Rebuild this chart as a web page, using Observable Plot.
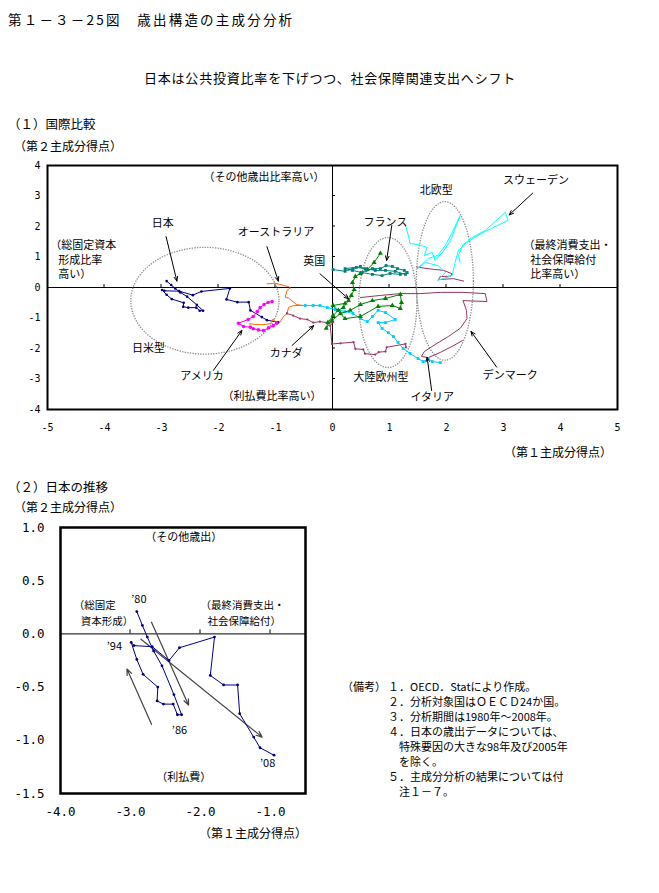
<!DOCTYPE html>
<html><head><meta charset="utf-8">
<script src="https://cdn.jsdelivr.net/npm/d3@7"></script>
<script src="https://cdn.jsdelivr.net/npm/@observablehq/plot@0.6"></script>
<style>
body{margin:0;background:#fff;}
#page{position:relative;width:659px;height:893px;overflow:hidden;font-family:"Noto Sans CJK JP",sans-serif;color:#000;background:#fff;}
.t{position:absolute;white-space:nowrap;}
.chart{position:absolute;}
</style></head><body><div id="page"></div>
<script>
// ---------- data (principal component scores) ----------
const xTicks1 = [-5,-4,-3,-2,-1,0,1,2,3,4,5];
const yTicks1 = [-4,-3,-2,-1,0,1,2,3,4];
const xTicks2 = [-4,-3,-2,-1];
const yTicks2 = [-1.5,-1,-0.5,0,0.5,1];

const japan = [[-2.91,0.21],[-2.83,0.08],[-2.76,-0.03],[-2.67,-0.16],[-2.55,-0.30],[-2.38,-0.57],[-2.27,-0.76],[-2.33,-0.76],[-2.39,-0.66],[-2.53,-0.66],[-2.62,-0.63],[-2.61,-0.50],[-2.82,-0.38],[-2.91,-0.24],[-2.99,-0.08],[-2.95,-0.11],[-2.69,-0.12],[-2.45,-0.25],[-2.30,-0.13],[-1.80,-0.03],[-1.86,-0.39],[-1.67,-0.48],[-1.47,-0.48],[-1.44,-0.75],[-1.24,-0.97],[-1.15,-1.07],[-0.95,-1.14]];
const australia = [[-1.15,0.12],[-1.01,0.14],[-0.86,0.07],[-0.77,0.03],[-0.74,-0.01],[-0.80,-0.10],[-0.83,-0.32],[-0.77,-0.35],[-0.63,-0.56],[-0.51,-0.59],[-0.68,-0.59],[-0.77,-0.65],[-0.80,-0.86],[-0.86,-0.95],[-0.92,-1.14],[-0.98,-1.21],[-1.04,-1.03],[-1.09,-1.19],[-1.24,-1.22],[-1.36,-1.21],[-1.46,-1.19]];
const usa = [[-1.06,-0.46],[-1.13,-0.49],[-1.20,-0.56],[-1.27,-0.66],[-1.32,-0.79],[-1.39,-0.95],[-1.48,-1.05],[-1.65,-1.17],[-1.56,-1.28],[-1.44,-1.30],[-1.39,-1.35],[-1.30,-1.39],[-1.21,-1.41],[-1.12,-1.32],[-1.04,-1.25],[-0.98,-1.17]];
const canada = [[-0.80,-0.85],[-0.69,-0.92],[-0.57,-1.02],[-0.44,-1.05],[-0.34,-1.15],[-0.22,-1.12],[-0.09,-1.15],[0.01,-1.14],[-0.04,-1.25],[-0.01,-1.85],[0.14,-1.83],[0.37,-1.79],[0.40,-2.01],[0.54,-2.03],[0.57,-2.17],[0.75,-2.20],[0.81,-2.12],[0.93,-2.10],[0.95,-1.96],[1.28,-1.85],[1.29,-1.96]];
const uk = [[0.84,1.12],[0.73,0.82],[0.61,0.59],[0.49,0.46],[0.40,0.36],[0.35,0.16],[0.38,-0.07],[0.33,-0.26],[0.28,-0.43],[0.19,-0.66],[0.10,-0.75],[0.01,-0.92],[-0.08,-1.15],[-0.11,-1.34],[-0.01,-1.08],[0.14,-0.85],[0.31,-0.75],[0.49,-0.56],[0.70,-0.43],[0.93,-0.36],[1.19,-0.23],[1.21,-0.49],[1.19,-0.69],[1.05,-0.59],[0.80,-0.62],[0.49,-0.95],[0.22,-1.02],[0.01,-0.59],[0.22,-0.52]];
const france = [[0.01,0.59],[0.22,0.53],[0.36,0.62],[0.49,0.69],[0.59,0.56],[0.70,0.62],[0.84,0.62],[0.94,0.72],[1.05,0.69],[1.14,0.62],[1.26,0.56],[1.31,0.49],[1.19,0.43],[1.01,0.46],[0.87,0.39],[0.70,0.43],[0.52,0.49],[0.35,0.56],[0.22,0.62],[0.42,0.66],[0.57,0.62],[0.75,0.56],[0.93,0.56],[1.10,0.53],[1.28,0.43]];
const italy = [[-0.48,-0.59],[-0.34,-0.59],[-0.22,-0.59],[-0.09,-0.66],[0.05,-0.72],[0.22,-0.79],[0.36,-0.85],[0.49,-1.02],[0.61,-1.12],[0.70,-0.95],[0.80,-0.75],[0.93,-0.82],[1.10,-1.05],[0.93,-1.15],[0.80,-1.15],[0.87,-1.34],[0.98,-1.48],[1.07,-1.61],[1.15,-1.80],[1.24,-2.00],[1.36,-2.16],[1.50,-2.33],[1.59,-2.43],[1.68,-2.33],[1.75,-2.43],[1.89,-2.46]];
const sweden = [[1.28,2.03],[1.33,1.71],[1.36,1.44],[1.50,1.41],[1.66,1.31],[1.61,1.05],[1.75,1.15],[1.80,0.89],[1.93,1.15],[2.07,1.54],[2.24,2.36],[2.10,1.80],[1.98,1.38],[1.85,1.05],[1.68,0.95],[1.49,0.62],[1.63,0.82],[1.85,0.72],[1.98,0.49],[1.84,0.23],[2.10,0.39],[2.15,0.82],[2.21,1.21],[2.42,1.61],[2.68,1.87],[3.03,2.46],[3.08,2.20],[2.64,1.80],[2.29,1.41],[2.21,1.05],[2.24,0.82]];
const denmarkA = [[1.48,0.67],[1.71,0.61],[1.95,0.56],[2.10,0.45],[2.07,0.37],[1.89,0.36],[1.86,0.26],[2.12,0.29],[2.30,0.21]];
const denmarkB = [[0.49,-0.33],[0.84,-0.26],[1.19,-0.20],[1.54,-0.20],[1.89,-0.16],[2.29,-0.16],[2.68,-0.20],[2.71,-0.46],[2.29,-0.43],[2.35,-0.75],[2.36,-1.02],[2.24,-1.34],[2.03,-1.61],[1.80,-1.87],[1.61,-2.10],[1.56,-2.26],[1.68,-2.30],[1.89,-2.13],[2.10,-1.93],[2.28,-1.74]];

// groupings (dotted ellipses): centre and radii in score units
const groups = [
  {cx:-2.23, cy:-0.45, rx:1.30, ry:1.75},
  {cx:0.98, cy:-0.51, rx:0.51, ry:2.13},
  {cx:1.98, cy:0.20, rx:0.50, ry:2.60}
];
const arrows1 = [
  {x1:-2.92,y1:1.67,x2:-2.73,y2:0.21},
  {x1:-1.15,y1:1.34,x2:-0.95,y2:0.21},
  {x1:-0.22,y1:0.45,x2:0.28,y2:-0.37},
  {x1:-2.09,y1:-2.72,x2:-1.59,y2:-1.41},
  {x1:-0.71,y1:-1.90,x2:-0.33,y2:-1.25},
  {x1:1.04,y1:2.03,x2:0.95,y2:0.89},
  {x1:3.51,y1:3.09,x2:3.10,y2:2.38},
  {x1:2.88,y1:-2.61,x2:2.43,y2:-1.44},
  {x1:1.74,y1:-3.38,x2:1.66,y2:-2.29}
];
const labels1 = [
  {t:"（その他歳出比率高い）",x:-1.20,y:3.61},{t:"日本",x:-2.98,y:2.10},{t:"オーストラリア",x:-0.99,y:1.80},
  {t:"英国",x:-0.32,y:0.85},{t:"日米型",x:-3.23,y:-2.0},{t:"カナダ",x:-0.81,y:-2.16},
  {t:"アメリカ",x:-2.29,y:-2.92},{t:"（利払費比率高い）",x:-1.06,y:-3.57},{t:"北欧型",x:1.82,y:3.18},
  {t:"フランス",x:0.93,y:2.13},{t:"スウェーデン",x:3.57,y:3.51},{t:"大陸欧州型",x:0.85,y:-2.95},
  {t:"デンマーク",x:3.12,y:-2.89},{t:"イタリア",x:1.75,y:-3.61}
];
const labels1Left = [
  {t:"（総固定資本",x:-4.95,y:1.37},{t:"形成比率",x:-4.81,y:0.90},{t:"高い）",x:-4.81,y:0.43},
  {t:"（最終消費支出・",x:3.35,y:1.37},{t:"社会保障給付",x:3.47,y:0.90},{t:"比率高い）",x:3.47,y:0.43}
];
const arrows2 = [
  {x1:-2.70,y1:0.11,x2:-2.17,y2:-0.67},
  {x1:-2.70,y1:-0.85,x2:-3.05,y2:-0.33},
  {x1:-2.85,y1:-0.05,x2:-1.12,y2:-0.97}
];
const labels2 = [
  {t:"（その他歳出）",x:-2.24,y:0.91},{t:"’80",x:-2.88,y:0.32},{t:"’94",x:-3.23,y:-0.12},
  {t:"’86",x:-2.30,y:-0.91},{t:"’08",x:-1.04,y:-1.22},{t:"（利払費）",x:-2.24,y:-1.35}
];
const labels2Left = [
  {t:"（総固定",x:-3.81,y:0.265},{t:"資本形成）",x:-3.71,y:0.115},
  {t:"（最終消費支出・",x:-2.0,y:0.265},{t:"社会保障給付）",x:-1.90,y:0.115}
];
const notes = [
  ["（備考）","１．OECD．Statにより作成。"],
  ["","２．分析対象国はＯＥＣＤ24か国。"],
  ["","３．分析期間は1980年～2008年。"],
  ["","４．日本の歳出データについては、"],
  ["","　特殊要因の大きな98年及び2005年"],
  ["","　を除く。"],
  ["","５．主成分分析の結果については付"],
  ["","　注１－７。"]
];

const series1 = [
  {key:"japan", pts:japan, color:"#000080", symbol:"circle", r:1.3},
  {key:"australia", pts:australia, color:"#FF6600", symbol:"plus", r:2.3},
  {key:"usa", pts:usa, color:"#FF00FF", symbol:"circle", r:1.8},
  {key:"canada", pts:canada, color:"#993366", symbol:"circle", r:1.1},
  {key:"denmarkA", pts:denmarkA, color:"#993366", symbol:null},
  {key:"denmarkB", pts:denmarkB, color:"#993366", symbol:null},
  {key:"sweden", pts:sweden, color:"#00FFFF", symbol:null},
  {key:"italy", pts:italy, color:"#00CCFF", symbol:"square", r:1.6},
  {key:"uk", pts:uk, color:"#008000", symbol:"triangle", r:1.9},
  {key:"france", pts:france, color:"#008080", symbol:"square", r:1.6}
];

// ---------- helpers ----------
const JP = "Noto Sans CJK JP";
const page = document.getElementById("page");
function T(txt, x, cy, size, align="left", extra={}) {
  const s = document.createElement("div");
  s.className = "t";
  s.textContent = txt;
  s.style.fontSize = size + "px";
  s.style.lineHeight = size + "px";
  s.style.top = (cy - size/2) + "px";
  s.style.left = x + "px";
  if (align === "center") s.style.transform = "translateX(-50%)";
  if (align === "right") s.style.transform = "translateX(-100%)";
  Object.assign(s.style, extra);
  page.appendChild(s);
}
function ellipses(data) {
  return (index, scales) => {
    const g = d3.create("svg:g");
    for (const e of data) {
      const cx = scales.x(e.cx), cy = scales.y(e.cy);
      const rx = Math.abs(scales.x(e.cx + e.rx) - cx), ry = Math.abs(scales.y(e.cy + e.ry) - cy);
      g.append("ellipse").attr("cx",cx).attr("cy",cy).attr("rx",rx).attr("ry",ry)
        .attr("fill","none").attr("stroke","#8a8a8a").attr("stroke-width",1.3).attr("stroke-dasharray","1.3,1.3");
    }
    return g.node();
  };
}
function innerTicks(xs, ys, len) {
  return (index, scales) => {
    const g = d3.create("svg:g").attr("stroke","black").attr("stroke-width",1);
    const y0 = scales.y(0), x0 = scales.x(0);
    for (const t of xs) g.append("line").attr("x1",scales.x(t)).attr("x2",scales.x(t)).attr("y1",y0).attr("y2",y0-len);
    for (const t of ys) g.append("line").attr("y1",scales.y(t)).attr("y2",scales.y(t)).attr("x1",x0).attr("x2",x0+len);
    return g.node();
  };
}
const px = d => d[0], py = d => d[1];

// ---------- chart 1 ----------
const marks1 = [
  Plot.ruleY([0], {stroke:"black", strokeWidth:1}),
  Plot.ruleX([0], {stroke:"black", strokeWidth:1}),
  innerTicks(xTicks1.filter(d => d !== 0 && Math.abs(d) < 5), yTicks1.filter(d => d !== 0 && Math.abs(d) < 4), 3),
  ellipses(groups)
];
for (const s of series1) {
  marks1.push(Plot.line(s.pts, {x:px, y:py, stroke:s.color, strokeWidth:1}));
  if (s.symbol) marks1.push(Plot.dot(s.pts, {x:px, y:py, fill:s.color, symbol:s.symbol, r:s.r}));
}
marks1.push(
  Plot.arrow(arrows1, {x1:"x1", y1:"y1", x2:"x2", y2:"y2", stroke:"black", strokeWidth:1, headLength:7, headAngle:45}),
  Plot.text(labels1, {x:"x", y:"y", text:"t", fontSize:11, fontFamily:JP, fill:"black"}),
  Plot.text(labels1Left, {x:"x", y:"y", text:"t", textAnchor:"start", fontSize:11, fontFamily:JP, fill:"black"}),
  Plot.frame({stroke:"black", strokeWidth:2})
);
const chart1 = Plot.plot({
  width:659, height:299, marginLeft:47, marginRight:42, marginTop:15, marginBottom:40,
  x:{domain:[-5,5], ticks:xTicks1, tickSize:0, tickPadding:14, tickFormat:d => String(d), label:null},
  y:{domain:[-4,4], ticks:yTicks1, tickSize:0, tickPadding:7, tickFormat:d => String(d), label:null},
  style:{fontFamily:"DejaVu Sans Mono", fontSize:"10px", background:"white", color:"black", overflow:"visible"},
  marks:marks1
});
const w1 = document.createElement("div"); w1.className = "chart"; w1.style.left = "0px"; w1.style.top = "150px";
w1.appendChild(chart1); page.appendChild(w1);

// ---------- chart 2 ----------
const chart2 = Plot.plot({
  width:320, height:318, marginLeft:60, marginRight:15, marginTop:17, marginBottom:35,
  x:{domain:[-4,-0.5], ticks:xTicks2, tickSize:0, tickPadding:14, tickFormat:d => d.toFixed(1), label:null},
  y:{domain:[-1.5,1], ticks:yTicks2, tickSize:0, tickPadding:16, tickFormat:d => d.toFixed(1), label:null},
  style:{fontFamily:"DejaVu Sans Mono", fontSize:"12.5px", background:"white", color:"black", overflow:"visible"},
  marks:[
    Plot.ruleY([0], {stroke:"black", strokeWidth:1}),
    innerTicks([-3,-2,-1], [], 4),
    Plot.arrow(arrows2, {x1:"x1", y1:"y1", x2:"x2", y2:"y2", stroke:"#444", strokeWidth:1.2, headLength:8, headAngle:45}),
    Plot.line(japan, {x:px, y:py, stroke:"#000080", strokeWidth:1}),
    Plot.dot(japan, {x:px, y:py, fill:"#000080", r:1.4}),
    Plot.text(labels2, {x:"x", y:"y", text:"t", fontSize:11, fontFamily:JP, fill:"black"}),
    Plot.text(labels2Left, {x:"x", y:"y", text:"t", textAnchor:"start", fontSize:10.5, fontFamily:JP, fill:"black"}),
    Plot.frame({stroke:"black", strokeWidth:2.5})
  ]
});
const w2 = document.createElement("div"); w2.className = "chart"; w2.style.left = "0px"; w2.style.top = "510px";
w2.appendChild(chart2); page.appendChild(w2);

// ---------- texts ----------
T("第１－３－25図　歳出構造の主成分分析", 8, 20, 13.5, "left", {letterSpacing:"2.2px"});
T("日本は公共投資比率を下げつつ、社会保障関連支出へシフト", 330, 77, 13, "center", {letterSpacing:"0.8px"});
T("（１）国際比較", 8, 124, 12.5);
T("（第２主成分得点）", 14, 146, 12);
T("（第１主成分得点）", 612, 452, 12, "right");
T("（２）日本の推移", 8, 487, 12.5);
T("（第２主成分得点）", 14, 507, 12);
T("（第１主成分得点）", 307, 833, 12, "right");
notes.forEach((n, i) => {
  if (n[0]) T(n[0], 342, 686 + i*15.1, 11);
  T(n[1], 388, 686 + i*15.1, 11);
});
</script></body></html>
